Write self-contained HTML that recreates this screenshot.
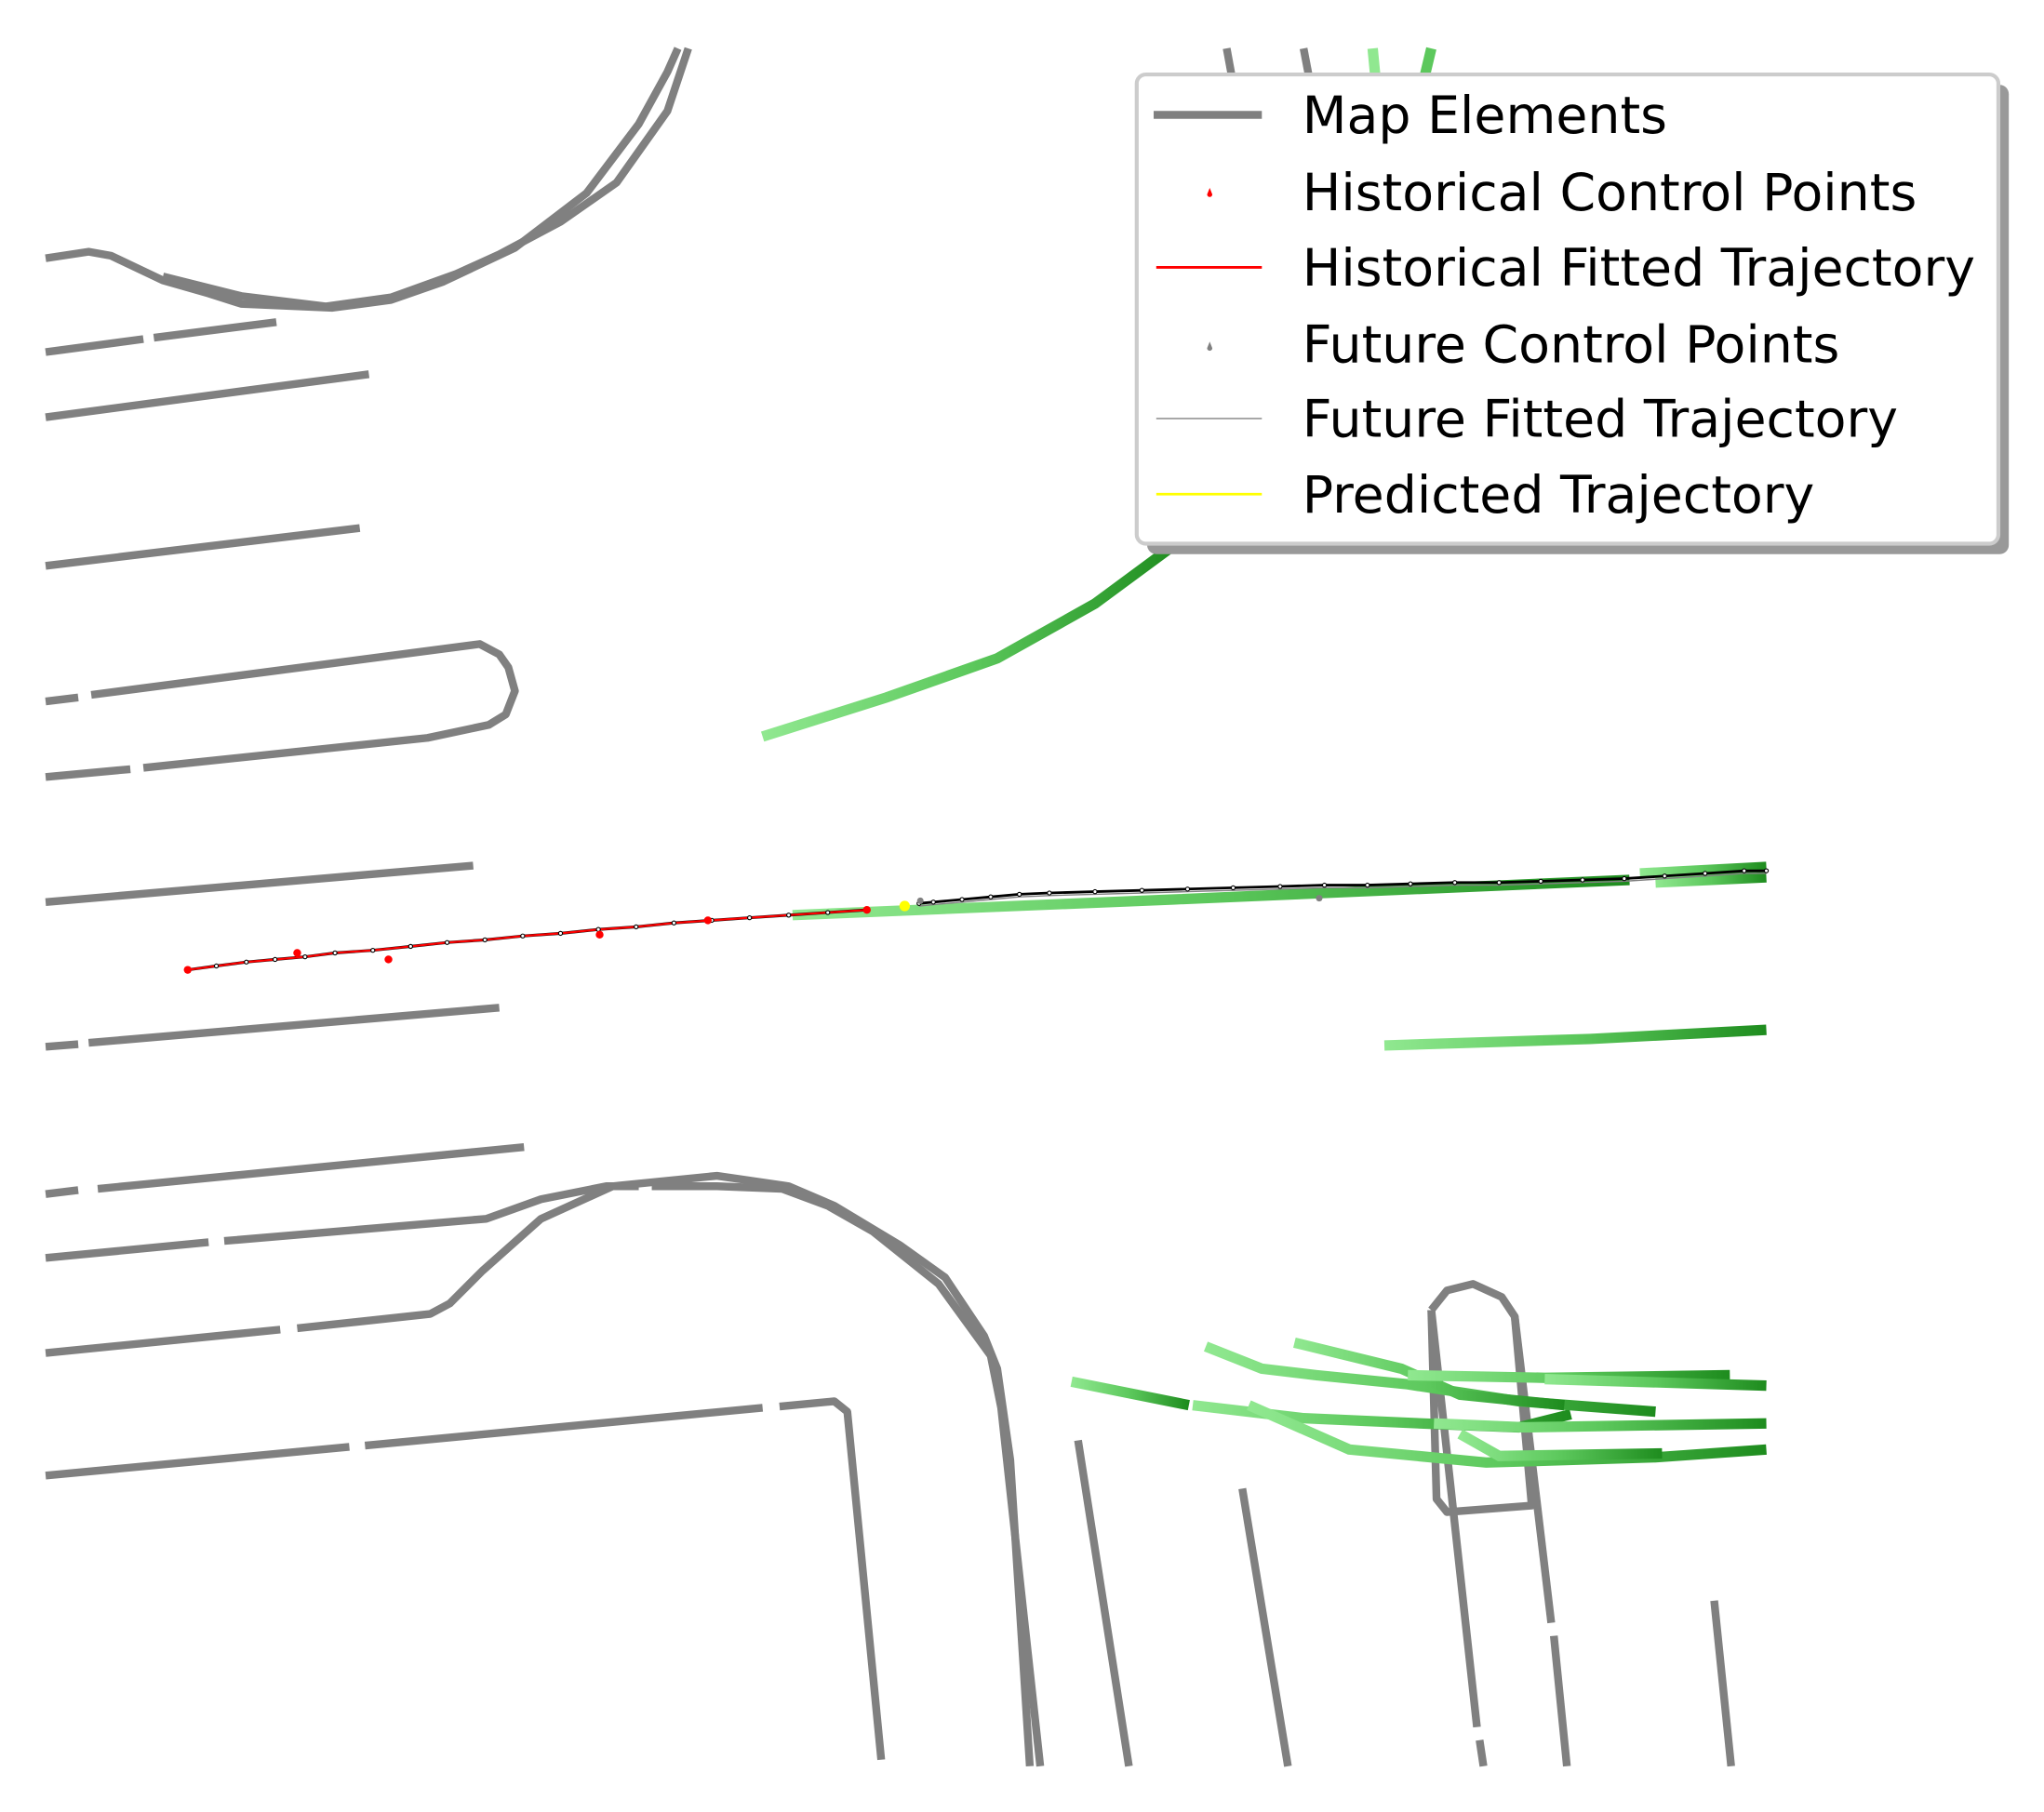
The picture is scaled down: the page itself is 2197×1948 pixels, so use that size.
<!DOCTYPE html>
<html><head><meta charset="utf-8"><style>
html,body{margin:0;padding:0;background:#fff;}
svg{display:block;}
text{font-family:"DejaVu Sans","Liberation Sans",sans-serif;}
</style></head><body>
<svg id="chart" width="2197" height="1948" viewBox="0 0 1568 1390" xmlns="http://www.w3.org/2000/svg">
<defs>
<linearGradient id="g1" x1="0" x2="1"><stop offset="0" stop-color="#90e890"/><stop offset="0.5" stop-color="#5cc85c"/><stop offset="1" stop-color="#1e8c1e"/></linearGradient>
<linearGradient id="g2" x1="0" x2="1"><stop offset="0" stop-color="#90e890"/><stop offset="1" stop-color="#4cbc4c"/></linearGradient>
</defs>
<g id="map" fill="none" stroke="#808080" stroke-width="6" stroke-linejoin="round"></g>
<g id="green" fill="none" stroke-width="8"></g>
<g id="traj"></g>
<g>
<rect x="880" y="65" width="661" height="360" rx="7" fill="#999"/>
<rect x="872" y="57" width="661" height="360" rx="7" fill="#fff" stroke="#ccc" stroke-width="3"/>
<line x1="885" y1="88" x2="968" y2="88" stroke="#808080" stroke-width="6"/>
<path d="M928 144 l-2 5 a2 2 0 0 0 4 0z" fill="red"/>
<line x1="887" y1="205" x2="968" y2="205" stroke="red" stroke-width="2"/>
<path d="M928 262 l-2 5 a2 2 0 0 0 4 0z" fill="#808080"/>
<line x1="887" y1="321" x2="968" y2="321" stroke="#808080" stroke-width="1"/>
<line x1="887" y1="379" x2="968" y2="379" stroke="yellow" stroke-width="2"/>
<g font-size="39.5" fill="#000">
<text x="999" y="102">Map Elements</text>
<text x="999" y="161">Historical Control Points</text>
<text x="999" y="219">Historical Fitted Trajectory</text>
<text x="999" y="278">Future Control Points</text>
<text x="999" y="335">Future Fitted Trajectory</text>
<text x="999" y="393">Predicted Trajectory</text>
</g>
</g>
</svg>
<script>
const mapLines=[
[[35,198],[68,193],[85,196],[125,215],[160,225],[185,233],[255,236],[300,230],[340,216],[395,190],[450,148],[490,95],[512,55],[520,37]],
[[125,212],[185,227],[250,235],[300,228],[350,210],[383,195],[430,170],[473,140],[512,85],[528,37]],
[[35,270],[110,260]],[[118,259],[212,247]],
[[35,320],[283,287]],
[[35,434],[276,405]],
[[35,538],[60,535]],[[70,533],[368,494],[383,502],[390,512],[395,530],[388,548],[375,556],[328,566],[110,589]],[[100,590],[35,596]],
[[35,692],[363,664]],
[[35,803],[60,801]],[[68,800],[383,773]],
[[35,916],[60,913]],[[75,912],[402,880]],
[[35,965],[160,953]],[[172,952],[373,935],[415,920],[465,910],[490,910]],[[500,910],[550,910],[600,912],[635,925],[670,945],[720,985],[760,1040],[768,1080],[798,1355]],
[[35,1038],[215,1020]],[[228,1019],[330,1008],[345,1000],[370,975],[415,935],[470,910],[550,902],[605,910],[640,925],[690,955],[725,980],[755,1025],[765,1050],[775,1120],[790,1355]],
[[35,1132],[268,1110]],[[280,1109],[585,1080]],[[598,1079],[640,1075],[650,1083],[676,1350]],
[[827,1105],[866,1355]],
[[953,1142],[988,1355]],
[[1315,1228],[1328,1355]],
[[1098,1005],[1110,990],[1130,985],[1152,995],[1162,1010],[1175,1155],[1110,1160],[1102,1150],[1098,1005]],
[[1098,1005],[1133,1325]],[[1135,1335],[1138,1355]],
[[1162,1010],[1190,1245]],[[1192,1255],[1202,1355]],
[[941,37],[948,75]],[[1000,37],[1004,58]]
];
const greenLines=[
[[585,565],[680,535],[765,505],[840,463],[905,415]],
[[1053,37],[1055,58]],
[[1098,37],[1093,58]],
[[608,702],[900,690],[1250,675]],
[[1258,670],[1355,665]],
[[1270,677],[1355,673]],
[[1062,802],[1220,797],[1355,790]],
[[822,1060],[912,1078]],
[[915,1078],[1000,1088],[1090,1092],[1165,1095],[1205,1085]],
[[925,1033],[968,1050],[1010,1055],[1080,1062],[1165,1075],[1270,1083]],
[[993,1030],[1075,1050],[1120,1070],[1200,1078]],
[[1080,1055],[1185,1057],[1327,1055]],
[[1185,1058],[1355,1063]],
[[958,1078],[1035,1112],[1140,1122],[1270,1118],[1355,1112]],
[[1100,1092],[1170,1095],[1355,1092]],
[[1120,1100],[1150,1117],[1275,1115]]
];
const histX=[144,228,298,460,543,665];
const histY=[744,731,736,717,706,698];
const fitX=[144,166,189,211,234,257,286,315,343,372,401,430,459,488,517,546,575,605,635,665];
const fitY=[744,741,738,736,734,731,729,726,723,721,718,716,713,711,708,706,704,702,700,698];
const futX=[705,716,738,760,782,805,840,876,911,946,982,1016,1049,1082,1116,1150,1182,1214,1246,1277,1308,1338,1355];
const futY=[693,692,690,688,686,685,684,683,682,681,680,679,679,678,677,677,676,675,674,672,670,668,668];
const futCtrlX=[706,1012];
const futCtrlY=[691,689];
const predX=[694];const predY=[695];
const NS='http://www.w3.org/2000/svg';
const ptsStr=a=>a.map(p=>p.join(',')).join(' ');
const mapG=document.getElementById('map');
mapLines.forEach(l=>{const e=document.createElementNS(NS,'polyline');e.setAttribute('points',ptsStr(l));


mapG.appendChild(e);});
const gG=document.getElementById('green');
greenLines.forEach((l,i)=>{const e=document.createElementNS(NS,'polyline');e.setAttribute('points',ptsStr(l));
const xs=l.map(p=>p[0]);
let col;
if(i===0) col='url(#g1)';
else if(i===2) col='#5cc85c';
else col=(xs[xs.length-1]-xs[0]<30?'#90e890':'url(#g1)');
e.setAttribute('stroke',col);


gG.appendChild(e);});
const tG=document.getElementById('traj');
function line(xs,ys,color,w,name){const e=document.createElementNS(NS,'polyline');
e.setAttribute('points',xs.map((x,i)=>x+','+ys[i]).join(' '));e.setAttribute('fill','none');e.setAttribute('stroke',color);e.setAttribute('stroke-width',w);


tG.appendChild(e);}
function dots(xs,ys,color,r,name,stroke){xs.forEach((x,i)=>{const c=document.createElementNS(NS,'circle');c.setAttribute('cx',x);c.setAttribute('cy',ys[i]);c.setAttribute('r',r);
c.setAttribute('fill',stroke?'#fff':color);if(stroke){c.setAttribute('stroke',color);c.setAttribute('stroke-width',0.8);}


tG.appendChild(c);});}
line(fitX,fitY,'#000',2.2,'historical-black-line');
line(fitX,fitY,'red',1.6,'historical-fitted-trajectory');
line(futX,futY,'#000',2,'future-black-line');
line(futX,futY.map(y=>y+2),'#808080',1,'future-fitted-trajectory');
dots(fitX,fitY,'#000',1.5,'trajectory-sample-point',true);
dots(futX,futY,'#000',1.5,'trajectory-sample-point',true);
dots(histX,histY,'red',3,'historical-control-point');
dots(futCtrlX,futCtrlY,'#808080',2.5,'future-control-point');
dots(predX,predY,'yellow',4,'predicted-trajectory-point');
</script>
</body></html>
